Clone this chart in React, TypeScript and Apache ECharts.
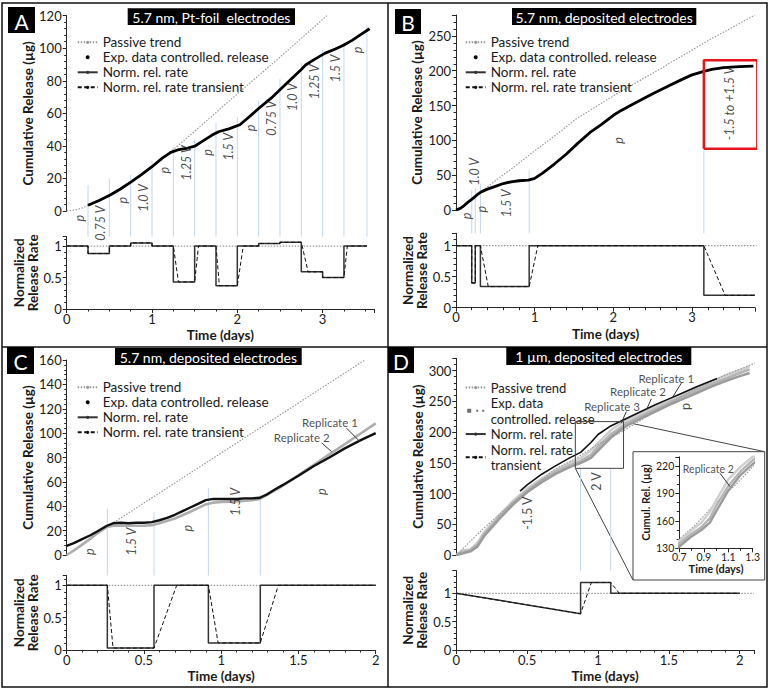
import React, { useEffect, useRef } from "react";
import * as echarts from "echarts";

const FONT = "Lato, 'Noto Sans', 'DejaVu Sans', sans-serif";
const AX = "#262626";
const TXT = "#1a1a1a";
const BLUE = "#c3d8ee";
const PASSIVE = "#9a9a9a";

// ---------------- Panel A : 5.7 nm, Pt-foil electrodes ----------------
const passiveA = [[0, 0], [0.1, 0.6], [0.2, 2.2], [0.3, 4.8], [0.5, 9.8], [0.75, 17.8], [1.0, 27], [1.2, 35.5], [1.5, 49], [2.0, 72], [2.5, 94.5], [3.05, 120]];
const releaseA = [[0.25, 3.5], [0.38, 6.5], [0.51, 9.8], [0.63, 13.5], [0.76, 18], [0.88, 22.5], [1.0, 27.2], [1.12, 32.5], [1.22, 36], [1.3, 37.5], [1.42, 38.7], [1.5, 39.8], [1.58, 42.5], [1.7, 46.5], [1.78, 48.7], [1.9, 50.5], [2.03, 53], [2.12, 57], [2.25, 63], [2.4, 69.5], [2.5, 74.5], [2.62, 80.5], [2.75, 87], [2.8, 89.7], [2.9, 93], [3.03, 97], [3.15, 99.5], [3.25, 102], [3.35, 105], [3.45, 108.5], [3.55, 112]];
const phaseBoundsA = [0, 0.25, 0.5, 0.75, 1, 1.25, 1.5, 1.75, 2, 2.25, 2.5, 2.75, 3, 3.25, 3.52];
const rateA = [1, 0.88, 1, 1.05, 1, 0.43, 1, 0.37, 1, 1.04, 1.06, 0.59, 0.5, 1];
const transientA = [[0, 1], [0.25, 1], [0.25, 0.88], [0.5, 0.88], [0.5, 1], [0.75, 1], [0.75, 1.05], [1, 1.05], [1, 1], [1.25, 1], [1.31, 0.43], [1.5, 0.43], [1.545, 1], [1.75, 1], [1.79, 0.37], [2, 0.37], [2.07, 1], [2.25, 1], [2.25, 1.04], [2.5, 1.04], [2.5, 1.06], [2.75, 1.06], [2.83, 0.59], [3, 0.59], [3, 0.5], [3.25, 0.5], [3.29, 1], [3.52, 1]];
const phaseLabelsA = ["p", "0.75 V", "p", "1.0 V", "p", "1.25 V", "p", "1.5 V", "p", "0.75 V", "1.0 V", "1.25 V", "1.5 V", "p"];
const phaseLabelYA = [-4.5, -7.5, 6.7, 8, 25, 29.5, 36, 39.5, 51, 57, 70, 79.4, 87.6, 99];
const boundaryTopA = [16, 20, 22, 31, 39, 44, 54, 58, 68, 81, 91, 99, 104, 114];

// ---------------- Panel B : 5.7 nm, deposited electrodes ----------------
const passiveB = [[0, 0], [0.1, 7], [0.2, 16], [0.32, 26], [0.5, 42], [0.75, 63], [1.0, 85], [1.25, 106], [1.53, 131], [2.0, 164], [2.63, 205], [3.2, 243], [3.8, 280]];
const releaseB = [[0, 0], [0.05, 2], [0.1, 6], [0.15, 11], [0.22, 17], [0.27, 22], [0.32, 26], [0.4, 30], [0.5, 34], [0.6, 38], [0.7, 40.5], [0.8, 42], [0.92, 43], [1.0, 45.5], [1.1, 53], [1.25, 66], [1.4, 80], [1.55, 96], [1.7, 111], [1.85, 123], [2.0, 136], [2.1, 143], [2.3, 155], [2.5, 167], [2.7, 178], [2.9, 189], [3.0, 194], [3.15, 199], [3.25, 202], [3.4, 204.5], [3.6, 206], [3.78, 206.5]];
const phaseBoundsB = [0, 0.2, 0.245, 0.31, 0.93, 3.15, 3.8];
const rateB = [1, 0.4, 1, 0.34, 1, 0.2];
const transientB = [[0, 1], [0.2, 1], [0.2, 0.4], [0.245, 0.4], [0.245, 1], [0.31, 1], [0.41, 0.34], [0.93, 0.34], [1.04, 1], [3.15, 1], [3.42, 0.2], [3.8, 0.2]];
const boundaryTopB = [29, 32, 38, 57, 90];
const phaseLabelsB: [string, number, number][] = [["p", 0.13, -8.6], ["1.0 V", 0.23, 55], ["p", 0.33, 1], ["1.5 V", 0.64, 9.6], ["p", 2.06, 100], ["-1.5 to +1.5 V", 3.48, 153]];
const redBoxB = [[3.15, 88], [3.83, 88], [3.83, 215], [3.15, 215], [3.15, 88]];

// ---------------- Panel C : 5.7 nm, deposited electrodes (replicates) ----------------
const passiveC = [[0, 0], [0.26, 23], [1.93, 160]];
const replicate1C = [[0, 7.5], [0.05, 10], [0.1, 13], [0.15, 16], [0.2, 19.5], [0.26, 24], [0.3, 26], [0.35, 26.5], [0.4, 26], [0.45, 26.5], [0.5, 26.5], [0.55, 27], [0.6, 28.5], [0.65, 30.5], [0.7, 33], [0.75, 36], [0.8, 39], [0.85, 42], [0.9, 45], [0.95, 46], [1.0, 46], [1.05, 46], [1.1, 46], [1.15, 46.5], [1.2, 46.5], [1.25, 47], [1.3, 50], [1.35, 54], [1.4, 57.5], [1.5, 65], [1.6, 73], [1.7, 80], [1.8, 87.5], [1.9, 94], [2.0, 100]];
const replicate2C = [[0, 0], [0.05, 4], [0.1, 8.5], [0.15, 13], [0.2, 18], [0.26, 23], [0.3, 24], [0.4, 24], [0.5, 24], [0.55, 24.5], [0.6, 26], [0.7, 30], [0.8, 35.5], [0.9, 41.5], [0.95, 43], [1.0, 43.5], [1.1, 44], [1.2, 45], [1.25, 46], [1.3, 49.5], [1.4, 57], [1.5, 65.5], [1.6, 74], [1.7, 82.5], [1.8, 91], [1.9, 99.5], [2.0, 108]];
const phaseBoundsC = [0, 0.263, 0.565, 0.917, 1.253, 2.0];
const rateC = [1, 0.03, 1, 0.11, 1];
const transientC = [[0, 1], [0.263, 1], [0.3, 0.03], [0.565, 0.03], [0.712, 1], [0.917, 1], [0.98, 0.11], [1.253, 0.11], [1.37, 1], [2, 1]];
const boundaryTopC = [38, 35, 55, 50];
const phaseLabelsC: [string, number, number][] = [["p", 0.15, 2.7], ["1.5 V", 0.42, 11], ["p", 0.78, 22], ["1.5 V", 1.09, 43.7], ["p", 1.65, 52]];
const replicateLabelsC: [string, number, number][] = [["Replicate 1", 1.704, 108.9], ["Replicate 2", 1.521, 96.2]];
const leaderC = [[[1.812, 104], [1.898, 93]], [[1.65, 92.1], [1.715, 84.7]]];

// ---------------- Panel D : 1 µm, deposited electrodes ----------------
const passiveD = [[0, 0], [0.2, 45], [0.4, 85], [0.6, 122], [0.7, 140], [0.835, 156], [1.0, 180], [1.164, 200], [1.3, 219], [1.635, 264], [1.9, 293], [2.17, 318]];
const replicate1D = [[0, 0], [0.05, 8], [0.1, 9], [0.15, 20], [0.2, 38], [0.3, 64], [0.4, 88], [0.5, 108], [0.6, 124], [0.7, 138], [0.8, 150], [0.88, 158], [0.95, 170], [1.0, 182], [1.1, 205], [1.2, 219], [1.3, 230], [1.4, 241], [1.5, 252], [1.6, 262], [1.7, 272], [1.8, 282], [1.9, 292], [2.0, 300], [2.07, 307]];
const replicate2D = [[0, 0], [0.05, 5], [0.1, 8], [0.15, 17], [0.2, 35], [0.3, 61], [0.4, 85], [0.5, 105], [0.6, 121], [0.7, 135], [0.8, 146], [0.88, 153], [0.95, 163], [1.0, 176], [1.1, 198], [1.2, 214], [1.3, 226], [1.4, 237], [1.5, 248], [1.6, 258], [1.7, 268], [1.8, 278], [1.9, 287], [2.0, 296], [2.07, 302]];
const replicate3D = [[0, 0], [0.05, 3], [0.1, 6], [0.15, 14], [0.2, 32], [0.3, 58], [0.4, 82], [0.5, 102], [0.6, 118], [0.7, 132], [0.8, 143], [0.88, 150], [0.95, 158], [1.0, 170], [1.1, 193], [1.2, 210], [1.3, 222], [1.4, 233], [1.5, 244], [1.6, 254], [1.7, 264], [1.8, 274], [1.9, 283], [2.0, 291], [2.07, 296]];
const modelD = [[0.45, 104], [0.5, 114], [0.6, 131], [0.7, 145], [0.8, 158], [0.877, 167], [0.95, 183], [1.0, 196], [1.09, 210], [1.2, 222], [1.3, 233], [1.4, 244], [1.5, 254], [1.6, 264], [1.7, 274], [1.84, 287]];
const rateD = [[0, 1], [0.877, 0.64], [0.877, 1.19], [1.09, 1.19], [1.09, 1.0], [2.0, 1.0]];
const transientD = [[0, 1], [0.877, 0.64], [0.953, 1.19], [1.09, 1.19], [1.15, 1.0], [2.0, 1.0]];
const boundaryXD = [0.877, 1.09];
const boundaryTopD = [140, 140];
const phaseLabelsD: [string, number, number][] = [["-1.5 V", 0.5, 68], ["2 V", 0.988, 119.5], ["p", 1.62, 241.5]];
const replicateLabelsD: [string, number, number][] = [["Replicate 1", 1.482, 287.8], ["Replicate 2", 1.282, 266], ["Replicate 3", 1.099, 241.5]];
const leaderD = [[[1.588, 279.6], [1.529, 257.8]], [[1.376, 254], [1.341, 236]], [[1.2, 233.4], [1.164, 214.5]]];
const zoomBoxD = [[0.84, 141], [1.18, 141], [1.18, 217], [0.84, 217], [0.84, 141]];
const insetLabel: [string, number, number][] = [["Replicate 2", 0.937, 216.3]];
const insetLeader = [[1.033, 212], [1.115, 197.3]];

// ---------------- layout ----------------
const GRIDS = [
  { left: 66.7, top: 15.7, width: 307.1, height: 195.3 },
  { left: 66.7, top: 236.6, width: 307.1, height: 72.4 },
  { left: 456, top: 15, width: 299, height: 195 },
  { left: 456, top: 233.3, width: 299, height: 74.4 },
  { left: 66.7, top: 360, width: 309, height: 195 },
  { left: 66.7, top: 575.6, width: 309, height: 74.4 },
  { left: 456.3, top: 358.3, width: 297.6, height: 196.7 },
  { left: 456.3, top: 570.6, width: 297.6, height: 79.4 },
  { left: 679.3, top: 456.8, width: 73.4, height: 91.5 },
];
const X_RANGES = [[0, 3.6], [0, 3.6], [0, 3.8], [0, 3.8], [0, 2], [0, 2], [0, 2.1], [0, 2.1], [0.7, 1.3]];
const Y_RANGES = [[0, 120], [0, 1.15], [0, 280], [0, 1.2], [0, 160], [0, 1.15], [0, 320], [0, 1.4], [130, 230]];
const X_INT = [1, 1, 1, 1, 0.5, 0.5, 0.5, 0.5, 0.2];
const X_MINOR = [4, 4, 5, 5, 5, 5, 5, 5, 2];
const Y_INT = [20, 0.5, 50, 0.5, 20, 0.5, 50, 0.5, 30];

function steps(bounds: number[], rates: number[]) {
  const pts: number[][] = [];
  rates.forEach((r, i) => {
    pts.push([bounds[i], r], [bounds[i + 1], r]);
  });
  return pts;
}
function belowValue(topIdx: number, rateIdx: number) {
  const g = GRIDS[topIdx];
  const r = GRIDS[rateIdx];
  const [y0, y1] = Y_RANGES[topIdx];
  const gap = r.top - (g.top + g.height);
  return y0 - (gap * (y1 - y0)) / g.height;
}
function line(gi: number, name: string, data: any[], color: string, width: number, type: any = "solid", extra: any = {}) {
  return {
    type: "line", name, xAxisIndex: gi, yAxisIndex: gi, data, symbol: "none", showSymbol: false, silent: true,
    lineStyle: { color, width, type }, itemStyle: { color }, z: 3, ...extra,
  };
}
function boundaries(gi: number, xs: number[], tops: number[], bottom: number) {
  return xs.map((x, i) => ({
    type: "line", name: "phase boundary", xAxisIndex: gi, yAxisIndex: gi, silent: true, symbol: "none", clip: false, z: 1,
    lineStyle: { color: BLUE, width: 1 }, data: [[x, tops[i]], [x, bottom]],
  }));
}
function texts(gi: number, items: [string, number, number][], rotate: number, fontSize: number, italic: boolean) {
  return {
    type: "scatter", name: "annotation", xAxisIndex: gi, yAxisIndex: gi, clip: false, silent: true, symbolSize: 0.1, z: 6,
    itemStyle: { color: "rgba(0,0,0,0)" },
    data: items.map(([name, x, y]) => ({ name, value: [x, y] })),
    label: {
      show: true, position: "inside", formatter: "{b}", rotate, fontSize, fontFamily: FONT,
      fontStyle: italic ? "italic" : "normal", color: TXT,
    },
  };
}
function midLabels(bounds: number[], labels: string[], ys: number[]): [string, number, number][] {
  return labels.map((l, i) => [l, (bounds[i] + bounds[i + 1]) / 2 + 0.025, ys[i]]);
}
function toPx(gi: number, x: number, y: number) {
  const g = GRIDS[gi];
  const [x0, x1] = X_RANGES[gi];
  const [y0, y1] = Y_RANGES[gi];
  return [g.left + ((x - x0) / (x1 - x0)) * g.width, g.top + g.height - ((y - y0) / (y1 - y0)) * g.height];
}
const isWhole = (v: number) => Math.abs(v - Math.round(v)) < 1e-6;

function buildOption() {
  const isRate = (i: number) => i === 1 || i === 3 || i === 5 || i === 7;
  const isTop = (i: number) => i === 0 || i === 2 || i === 4 || i === 6;
  const tickCommon = {
    axisLine: { show: true, onZero: false, lineStyle: { color: AX, width: 1 } },
    axisTick: { show: true, length: 4, lineStyle: { color: AX } },
    splitLine: { show: false },
    minorSplitLine: { show: false },
  };

  const xAxis = GRIDS.map((_, i) => {
    const inset = i === 8;
    const fs = inset ? 10.5 : 13;
    return {
      type: "value", gridIndex: i, min: X_RANGES[i][0], max: X_RANGES[i][1], interval: X_INT[i],
      show: !isTop(i),
      ...tickCommon,
      minorTick: { show: true, splitNumber: X_MINOR[i], length: 2.5, lineStyle: { color: AX } },
      axisLabel: { fontSize: fs, color: TXT, fontFamily: FONT, margin: 3, showMaxLabel: isWhole((X_RANGES[i][1] - X_RANGES[i][0]) / X_INT[i]) },
      name: "Time (days)", nameLocation: "middle", nameGap: inset ? 13 : 19,
      nameTextStyle: { fontSize: inset ? 11 : 13.5, fontWeight: "bold", fontFamily: FONT, color: TXT },
    };
  });
  const yAxis = GRIDS.map((_, i) => {
    const inset = i === 8;
    const fs = inset ? 10.5 : 13;
    let name = "Cumulative Release (µg)";
    if (isRate(i)) name = "Normalized\nRelease Rate";
    if (inset) name = "Cumul. Rel. (µg)";
    return {
      type: "value", gridIndex: i, min: Y_RANGES[i][0], max: Y_RANGES[i][1], interval: Y_INT[i],
      ...tickCommon,
      minorTick: { show: true, splitNumber: inset ? 3 : 5, length: 2.5, lineStyle: { color: AX } },
      axisLabel: { fontSize: fs, color: TXT, fontFamily: FONT, margin: 5, showMaxLabel: isWhole((Y_RANGES[i][1] - Y_RANGES[i][0]) / Y_INT[i]) },
      name, nameLocation: "middle", nameGap: inset ? 27 : isRate(i) ? 25 : 30,
      nameTextStyle: { fontSize: inset ? 11 : 13.5, fontWeight: "bold", fontFamily: FONT, color: TXT, lineHeight: 14 },
    };
  });

  const series: any[] = [];
  // Panel A
  series.push(line(0, "Passive trend", passiveA, PASSIVE, 1.2, [1.5, 1.5]));
  series.push(line(0, "Exp. data controlled. release", releaseA, "#000", 2.8));
  series.push(...boundaries(0, phaseBoundsA.slice(1), boundaryTopA, belowValue(0, 1)));
  series.push(texts(0, midLabels(phaseBoundsA, phaseLabelsA, phaseLabelYA), 90, 12.5, true));
  series.push(line(1, "Passive trend", [[0, 1], [3.52, 1]], PASSIVE, 1.2, [1.5, 1.5], { z: 2 }));
  series.push(line(1, "Norm. rel. rate", steps(phaseBoundsA, rateA), "#333", 1.5));
  series.push(line(1, "Norm. rel. rate transient", transientA, "#111", 1, [4, 2.5]));
  // Panel B
  series.push(line(2, "Passive trend", passiveB, PASSIVE, 1.2, [1.5, 1.5]));
  series.push(line(2, "Exp. data controlled. release", releaseB, "#000", 2.8));
  series.push(...boundaries(2, phaseBoundsB.slice(1, -1), boundaryTopB, belowValue(2, 3)));
  series.push(texts(2, phaseLabelsB, 90, 12.5, true));
  series.push(line(2, "switching window", redBoxB, "#e8141b", 2.5, "solid", { clip: false, z: 7 }));
  series.push(line(3, "Passive trend", [[0, 1], [3.82, 1]], PASSIVE, 1.2, [1.5, 1.5], { z: 2, clip: false }));
  series.push(line(3, "Norm. rel. rate", steps(phaseBoundsB, rateB), "#333", 1.5));
  series.push(line(3, "Norm. rel. rate transient", transientB, "#111", 1, [4, 2.5]));
  // Panel C
  series.push(line(4, "Passive trend", passiveC, PASSIVE, 1.2, [1.5, 1.5]));
  series.push(line(4, "Exp. data controlled. release", replicate2C, "#adadad", 2.6));
  series.push(line(4, "Exp. data controlled. release", replicate1C, "#111", 2.4));
  series.push(...boundaries(4, phaseBoundsC.slice(1, -1), boundaryTopC, belowValue(4, 5)));
  series.push(texts(4, phaseLabelsC, 90, 12.5, true));
  series.push(texts(4, replicateLabelsC, 0, 11.5, false));
  leaderC.forEach((seg) => series.push(line(4, "leader", seg, "#333", 1, "solid", { z: 6 })));
  series.push(line(5, "Passive trend", [[0, 1], [2, 1]], PASSIVE, 1.2, [1.5, 1.5], { z: 2 }));
  series.push(line(5, "Norm. rel. rate", steps(phaseBoundsC, rateC), "#333", 1.5));
  series.push(line(5, "Norm. rel. rate transient", transientC, "#111", 1, [4, 2.5]));
  // Panel D
  series.push(line(6, "Passive trend", passiveD, PASSIVE, 1.2, [1.5, 1.5], { clip: false, z: 4 }));
  series.push(line(6, "Exp. data\ncontrolled. release", replicate1D, "#cfcfcf", 2.6));
  series.push(line(6, "Exp. data\ncontrolled. release", replicate2D, "#b5b5b5", 2.6));
  series.push(line(6, "Exp. data\ncontrolled. release", replicate3D, "#9c9c9c", 2.6));
  series.push(line(6, "model cumulative", modelD, "#111", 1.6, "solid", { z: 5 }));
  series.push(...boundaries(6, boundaryXD, boundaryTopD, belowValue(6, 7)));
  series.push(texts(6, phaseLabelsD, 90, 12.5, false));
  series.push(texts(6, replicateLabelsD, 0, 11.5, false));
  leaderD.forEach((seg) => series.push(line(6, "leader", seg, "#333", 1, "solid", { z: 6 })));
  series.push(line(6, "zoom box", zoomBoxD, "#444", 1, "solid", { z: 6 }));
  series.push(line(7, "Passive trend", [[0, 1], [2.1, 1]], PASSIVE, 1.2, [1.5, 1.5], { z: 2 }));
  series.push(line(7, "Norm. rel. rate", rateD, "#333", 1.5));
  series.push(line(7, "Norm. rel. rate\ntransient", transientD, "#111", 1, [4, 2.5]));
  // Inset
  series.push(line(8, "Passive trend", passiveD, PASSIVE, 1.2, [1.5, 1.5]));
  series.push(line(8, "inset rep 1", replicate1D, "#cfcfcf", 2.4));
  series.push(line(8, "inset rep 2", replicate2D, "#b5b5b5", 2.4));
  series.push(line(8, "inset rep 3", replicate3D, "#9c9c9c", 2.4));
  series.push(texts(8, insetLabel, 0, 10.5, false));
  series.push(line(8, "leader", insetLeader, "#333", 1, "solid", { z: 6 }));

  const legendBase = {
    orient: "vertical", itemWidth: 20, itemHeight: 4, itemGap: 1, padding: 0, selectedMode: false,
    textStyle: { fontSize: 13.5, fontFamily: FONT, color: TXT, lineHeight: 14 },
  };
  const dot = { icon: "circle", itemStyle: { color: "#000" } };
  const std = [{ name: "Passive trend" }, { name: "Exp. data controlled. release", ...dot }, { name: "Norm. rel. rate" }, { name: "Norm. rel. rate transient" }];
  const legend = [
    { ...legendBase, left: 76.7, top: 35.3, data: std },
    { ...legendBase, left: 464.7, top: 35.3, data: std },
    { ...legendBase, left: 76.7, top: 380.3, data: std },
    {
      ...legendBase, left: 464.7, top: 379.8, itemGap: 0,
      textStyle: { fontSize: 13, fontFamily: FONT, color: TXT, lineHeight: 15.5 },
      data: [{ name: "Passive trend" }, { name: "Exp. data\ncontrolled. release", icon: "path://M0,0H4V4H0Z M9,1H11V3H9Z M15,1H17V3H15Z", itemStyle: { color: "#6f6f6f" } }, { name: "Norm. rel. rate" }, { name: "Norm. rel. rate\ntransient" }],
    },
  ];

  const panels = [
    { letter: "A", box: [8, 7, 27, 26], title: "5.7 nm, Pt-foil  electrodes", tbox: [127.7, 8.3, 167.3, 16.7] },
    { letter: "B", box: [395, 9, 26, 25], title: "5.7 nm, deposited electrodes", tbox: [512, 8, 184.3, 17] },
    { letter: "C", box: [7, 347, 27, 27], title: "5.7 nm, deposited electrodes", tbox: [115, 348, 186.7, 17] },
    { letter: "D", box: [388, 347, 26, 26], title: "1 µm, deposited electrodes", tbox: [506.3, 347, 185, 18] },
  ];
  const graphic: any[] = [
    { type: "rect", z: 100, shape: { x: 2, y: 3, width: 765, height: 684 }, style: { fill: "none", stroke: "#111", lineWidth: 1.5 } },
    { type: "line", z: 100, shape: { x1: 388, y1: 3, x2: 388, y2: 687 }, style: { stroke: "#111", lineWidth: 1.5 } },
    { type: "line", z: 100, shape: { x1: 2, y1: 347, x2: 767, y2: 347 }, style: { stroke: "#111", lineWidth: 1.5 } },
  ];
  panels.forEach((p) => {
    const [bx, by, bw, bh] = p.box;
    const [tx, ty, tw, th] = p.tbox;
    graphic.push({ type: "rect", z: 101, shape: { x: bx, y: by, width: bw, height: bh }, style: { fill: "#000" } });
    graphic.push({ type: "text", z: 102, x: bx + bw / 2, y: by + bh / 2 + 1, style: { text: p.letter, fill: "#fff", fontSize: 21, fontFamily: FONT, textAlign: "center", textVerticalAlign: "middle", align: "center", verticalAlign: "middle" } });
    graphic.push({ type: "rect", z: 101, shape: { x: tx, y: ty, width: tw, height: th }, style: { fill: "#000" } });
    graphic.push({ type: "text", z: 102, x: tx + tw / 2, y: ty + th / 2 + 0.5, style: { text: p.title, fill: "#fff", fontSize: 14, fontFamily: FONT, textAlign: "center", textVerticalAlign: "middle", align: "center", verticalAlign: "middle" } });
  });
  // inset frame and zoom connectors
  const insetBox = { x: 633, y: 451.7, w: 131.7, h: 128.3 };
  graphic.push({ type: "rect", z: -1, shape: { x: insetBox.x, y: insetBox.y, width: insetBox.w, height: insetBox.h }, style: { fill: "#fff", stroke: "#444", lineWidth: 1 } });
  const tr = toPx(6, zoomBoxD[2][0], zoomBoxD[2][1]);
  const bl = toPx(6, zoomBoxD[0][0], zoomBoxD[0][1]);
  graphic.push({ type: "line", z: 1, shape: { x1: tr[0], y1: tr[1], x2: insetBox.x + insetBox.w, y2: insetBox.y }, style: { stroke: "#444", lineWidth: 1 } });
  graphic.push({ type: "line", z: 1, shape: { x1: bl[0], y1: bl[1], x2: insetBox.x, y2: insetBox.y + insetBox.h }, style: { stroke: "#444", lineWidth: 1 } });

  return {
    animation: false,
    backgroundColor: "#fff",
    textStyle: { fontFamily: FONT },
    grid: GRIDS.map((g) => ({ ...g, containLabel: false })),
    xAxis,
    yAxis,
    legend,
    series,
    graphic,
  };
}

export default function App() {
  const ref = useRef<HTMLDivElement>(null);
  useEffect(() => {
    document.body.style.margin = "0";
    const chart = echarts.init(ref.current!, null, { renderer: "svg" });
    chart.setOption(buildOption() as any);
    return () => chart.dispose();
  }, []);
  return <div ref={ref} style={{ width: 776, height: 695, background: "#fff" }} />;
}
